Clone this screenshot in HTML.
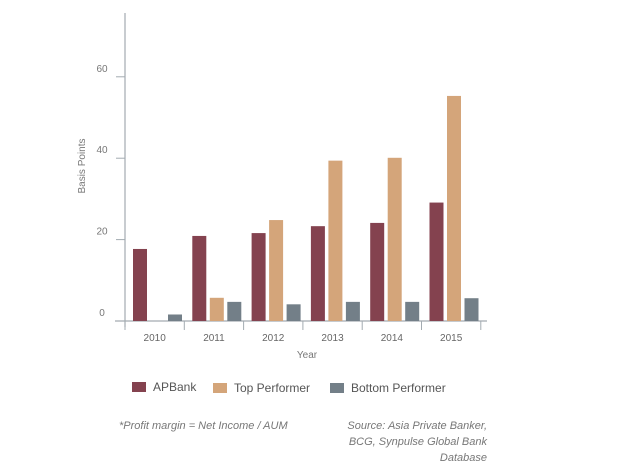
<!DOCTYPE html>
<html><head><meta charset="utf-8"><style>
html,body{margin:0;padding:0;background:#fff;}
svg{display:block;font-family:"Liberation Sans",sans-serif;}
</style></head><body>
<svg id="chart" width="624" height="468">
<g id="axes"></g>
<g id="bars"></g>
<g>
 <g><rect x="132" y="382" width="14" height="10" fill="#84424f"/><text x="153" y="391" font-size="12" fill="#555">APBank</text></g>
 <g><rect x="213" y="383" width="14" height="10" fill="#d4a57a"/><text x="234" y="392" font-size="12" fill="#555">Top Performer</text></g>
 <g><rect x="330" y="383" width="14" height="10" fill="#737f88"/><text x="351" y="392" font-size="12" fill="#555">Bottom Performer</text></g>
</g>
<text x="119" y="429" font-size="11" font-style="italic" fill="#777">*Profit margin = Net Income / AUM</text>
<g font-size="11" font-style="italic" fill="#777" text-anchor="end">
 <text x="487" y="429">Source: Asia Private Banker,</text>
 <text x="487" y="445">BCG, Synpulse Global Bank</text>
 <text x="487" y="461">Database</text>
</g>
</svg>
<script>
const categories = ["2010","2011","2012","2013","2014","2015"];
const apbank = [17.7,20.9,21.6,23.3,24.1,29.1];
const topPerformer = [0,5.7,24.8,39.4,40.1,55.3];
const bottomPerformer = [1.6,4.7,4.1,4.7,4.7,5.6];
const yTicks = [0,20,40,60];
const NS="http://www.w3.org/2000/svg";
const x0=125, bandW=59.3, y0=321, pxPerUnit=4.07;
const xBand=i=>x0+i*bandW;
const yScale=v=>y0-v*pxPerUnit;
function mk(tag,attrs,parent){const e=document.createElementNS(NS,tag);for(const k in attrs)e.setAttribute(k,attrs[k]);parent.appendChild(e);return e;}
const axes=document.getElementById('axes'), bars=document.getElementById('bars');
const axisCol="#a3abb1";
let yl=mk('line',{x1:125,y1:13,x2:125,y2:327,stroke:axisCol,'stroke-width':1.2},axes);


let xl=mk('line',{x1:115,y1:321,x2:487,y2:321,stroke:axisCol,'stroke-width':1.2},axes);


yTicks.forEach(v=>{
  const y=yScale(v);
  let t=mk('line',{x1:116,y1:y,x2:125,y2:y,stroke:axisCol,'stroke-width':1},axes);
  
  
  let l=mk('text',{x:102,y:y-5,'font-size':10,fill:'#777','text-anchor':'middle'},axes);
  l.textContent=v;
  
  
});
for(let i=0;i<=categories.length;i++){
  const x=xBand(i);
  let t=mk('line',{x1:x,y1:321,x2:x,y2:330,stroke:axisCol,'stroke-width':1},axes);
  
  
}
categories.forEach((c,i)=>{
  let l=mk('text',{x:xBand(i)+bandW/2,y:341,'font-size':10,fill:'#666','text-anchor':'middle'},axes);
  l.textContent=c;
  
  
});
let yt=mk('text',{x:85,y:166,'font-size':10,fill:'#777','text-anchor':'middle',transform:'rotate(-90 85 166)'},axes);
yt.textContent='Basis Points';


let xt=mk('text',{x:307,y:358,'font-size':10,fill:'#777','text-anchor':'middle'},axes);
xt.textContent='Year';


const series=[[apbank,'#84424f','apbank'],[topPerformer,'#d4a57a','top-performer'],[bottomPerformer,'#737f88','bottom-performer']];
const bw=14, offs=[8,25.5,43];
series.forEach(([vals,col,nm],s)=>{
  vals.forEach((v,i)=>{
    if(v<=0)return;
    const x=xBand(i)+offs[s], y=yScale(v);
    let r=mk('rect',{x:x,y:y,width:bw,height:y0-y,fill:col},bars);
    
    
  });
});
</script>
</body></html>
